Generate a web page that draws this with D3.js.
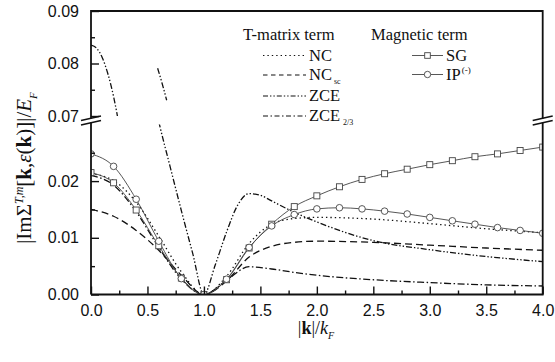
<!DOCTYPE html>
<html>
<head>
<meta charset="utf-8">
<script src="https://cdn.jsdelivr.net/npm/d3@7"></script>
<style>
  body { margin: 0; background: #fff; }
  svg { display: block; }
  .tick-label { font-family: "Liberation Sans", Arial, sans-serif; font-size: 16px; fill: #111; }
  .serif { font-family: "Liberation Serif", "Times New Roman", serif; fill: #111; }
</style>
</head>
<body>
<svg id="chart" width="555" height="362"></svg>
<script>
// values
const kMarks = [0, 0.2, 0.4, 0.6, 0.8, 1.0, 1.2, 1.4, 1.6, 1.8, 2.0, 2.2, 2.4, 2.6, 2.8, 3.0, 3.2, 3.4, 3.6, 3.8, 4.0]
const sgVals = [0.0215, 0.0197, 0.0149, 0.0086, 0.0029, 0, 0.0026, 0.0082, 0.0124, 0.0155, 0.0174, 0.0190, 0.0203, 0.0213, 0.0221, 0.0229, 0.0236, 0.0243, 0.0248, 0.0254, 0.0260]
const ipVals = [0.0248, 0.0226, 0.0168, 0.0094, 0.0028, 0, 0.0027, 0.0083, 0.0121, 0.0141, 0.0151, 0.0153, 0.0151, 0.0147, 0.0142, 0.0136, 0.0130, 0.0124, 0.0118, 0.0113, 0.0108]

const kLines = [0, 0.2, 0.4, 0.6, 0.8, 1.0, 1.2, 1.4, 1.6, 1.8, 2.0, 2.5, 3.0, 3.5, 4.0]
const ncVals = [0.0213, 0.0201, 0.0163, 0.0103, 0.0040, 0, 0.0032, 0.0090, 0.0124, 0.0134, 0.0136, 0.0133, 0.0125, 0.0116, 0.0109]
const ncScVals = [0.0150, 0.0138, 0.0113, 0.0078, 0.0034, 0, 0.0024, 0.0066, 0.0085, 0.0092, 0.0094, 0.0092, 0.0087, 0.0082, 0.0078]
const zce23Vals = [0.0210, 0.0193, 0.0146, 0.0083, 0.0027, 0, 0.0025, 0.0049, 0.0045, 0.0039, 0.0034, 0.0026, 0.0021, 0.0017, 0.0015]

const zceK = [0, 0.05, 0.1, 0.15, 0.2, 0.25, 0.6, 0.7, 0.8, 0.9, 1.0, 1.1, 1.2, 1.3, 1.4, 1.5, 1.6, 1.8, 2.0, 2.5, 3.0, 3.5, 4.0]
const zceVals = [0.0835, 0.0829, 0.0811, 0.0780, 0.0737, 0.0682, 0.0305, 0.0226, 0.0148, 0.0073, 0, 0.0052, 0.0110, 0.0158, 0.0178, 0.0175, 0.0165, 0.0145, 0.0128, 0.0095, 0.0079, 0.0067, 0.0058]
// short piece seen in the upper panel near k = 0.6
const zceTopK = [0.59, 0.63, 0.67]
const zceTopVals = [0.0791, 0.0762, 0.0730]

const xTicks = [0, 0.5, 1.0, 1.5, 2.0, 2.5, 3.0, 3.5, 4.0]
const yLowTicks = [0, 0.01, 0.02]
const yHighTicks = [0.07, 0.08, 0.09]

const svg = d3.select("#chart")

const x = d3.scaleLinear().domain([0, 4]).range([91, 542.7])
const yLo = d3.scaleLinear().domain([0, 0.03]).range([294.5, 124.4])
const yHi = d3.scaleLinear().domain([0.07, 0.09]).range([116, 11])

const defs = svg.append("defs")
defs.append("clipPath").attr("id", "clipLo").append("rect")
  .attr("x", x(0)).attr("y", yLo(0.03)).attr("width", x(4) - x(0)).attr("height", yLo(0) - yLo(0.03))
defs.append("clipPath").attr("id", "clipHi").append("rect")
  .attr("x", x(0)).attr("y", yHi(0.09)).attr("width", x(4) - x(0)).attr("height", yHi(0.07) - yHi(0.09))

const series = [
  { k: kLines, v: ncVals, dash: "1.4,3" },
  { k: kLines, v: ncScVals, dash: "7,4" },
  { k: zceK, v: zceVals, dash: "6,2,1.4,2,1.4,2" },
  { k: zceTopK, v: zceTopVals, dash: "6,2,1.4,2,1.4,2" },
  { k: kLines, v: zce23Vals, dash: "7,2.5,1.5,2.5" },
  { k: kMarks, v: sgVals, dash: null, thin: true },
  { k: kMarks, v: ipVals, dash: null, thin: true }
]

const panels = [
  { y: yLo, clip: "url(#clipLo)" },
  { y: yHi, clip: "url(#clipHi)" }
]

panels.forEach(p => {
  const g = svg.append("g").attr("clip-path", p.clip)
  const line = d3.line().x(d => x(d[0])).y(d => p.y(d[1])).curve(d3.curveMonotoneX)
  series.forEach(s => {
    g.append("path")
      .datum(s.k.map((k, i) => [k, s.v[i]]))
      .attr("d", line)
      .attr("fill", "none")
      .attr("stroke", s.thin ? "#444" : "#111")
      .attr("stroke-width", s.thin ? 0.9 : 1.3)
      .attr("stroke-dasharray", s.dash)
  })
  g.selectAll("rect.sg").data(kMarks.map((k, i) => [k, sgVals[i]])).enter()
    .append("rect").attr("class", "sg")
    .attr("x", d => x(d[0]) - 3).attr("y", d => p.y(d[1]) - 3)
    .attr("width", 6).attr("height", 6)
    .attr("fill", "#fff").attr("stroke", "#444").attr("stroke-width", 0.9)
  g.selectAll("circle.ip").data(kMarks.map((k, i) => [k, ipVals[i]])).enter()
    .append("circle").attr("class", "ip")
    .attr("cx", d => x(d[0])).attr("cy", d => p.y(d[1])).attr("r", 3.3)
    .attr("fill", "#fff").attr("stroke", "#444").attr("stroke-width", 0.9)
})

// axes, ticks point inward
const axisG = svg.append("g")

const xAxis = axisG.append("g").attr("transform", `translate(0,${yLo(0)})`)
  .call(d3.axisBottom(x).tickValues(xTicks).tickSizeInner(-8).tickSizeOuter(0).tickPadding(10).tickFormat(d3.format(".1f")))
axisG.append("g").attr("transform", `translate(0,${yLo(0)})`)
  .call(d3.axisBottom(x).tickValues([0.25, 0.75, 1.25, 1.75, 2.25, 2.75, 3.25, 3.75]).tickSizeInner(-4).tickSizeOuter(0).tickFormat(""))

axisG.append("g").attr("transform", `translate(${x(0)},0)`)
  .call(d3.axisLeft(yLo).tickValues(yLowTicks).tickSizeInner(-8).tickSizeOuter(0).tickPadding(12).tickFormat(d3.format(".2f")))
axisG.append("g").attr("transform", `translate(${x(0)},0)`)
  .call(d3.axisLeft(yLo).tickValues([0.005, 0.015, 0.025]).tickSizeInner(-4).tickSizeOuter(0).tickFormat(""))
axisG.append("g").attr("transform", `translate(${x(0)},0)`)
  .call(d3.axisLeft(yHi).tickValues(yHighTicks).tickSizeInner(-8).tickSizeOuter(0).tickPadding(12).tickFormat(d3.format(".2f")))
axisG.append("g").attr("transform", `translate(${x(0)},0)`)
  .call(d3.axisLeft(yHi).tickValues([0.075, 0.085]).tickSizeInner(-4).tickSizeOuter(0).tickFormat(""))

axisG.selectAll(".domain").remove()
axisG.selectAll(".tick line").attr("stroke", "#111").attr("stroke-width", 1.4)
axisG.selectAll(".tick text").attr("class", "tick-label").attr("fill", null)
xAxis.selectAll(".tick text").attr("dy", "0.71em")

// frame with breaks
const frameL = x(0), frameR = x(4), frameT = yHi(0.09), frameB = yLo(0)
svg.append("path")
  .attr("d", `M${frameL},${frameB}V${frameT}H${frameR}V${frameB}H${frameL}`)
  .attr("fill", "none").attr("stroke", "#111").attr("stroke-width", 1.8)

const breakY = 120.5
;[frameL, frameR].forEach(cx => {
  svg.append("rect").attr("x", cx - 3).attr("y", breakY - 2).attr("width", 6).attr("height", 4).attr("fill", "#fff")
  ;[-2.3, 2.3].forEach(off => {
    svg.append("line")
      .attr("x1", cx - 10).attr("y1", breakY + off + 2.2)
      .attr("x2", cx + 10).attr("y2", breakY + off - 2.2)
      .attr("stroke", "#111").attr("stroke-width", 1.5)
  })
})

// legend
const legend = svg.append("g").attr("class", "serif").style("font-size", "16.5px")
legend.append("text").attr("x", 243).attr("y", 40).text("T-matrix term")
legend.append("text").attr("x", 371).attr("y", 40).text("Magnetic term")

const leftEntries = [
  { name: "NC", sub: "", dash: "1.4,3", row: 60.5 },
  { name: "NC", sub: "sc", dash: "4.5,3.5", row: 80 },
  { name: "ZCE", sub: "", dash: "5,2,1.4,2,1.4,2", row: 101 },
  { name: "ZCE", sub: "2/3", dash: "5,2.5,1.5,2.5", row: 121 }
]
leftEntries.forEach(e => {
  const yy = e.row
  legend.append("line").attr("x1", 263).attr("x2", 306).attr("y1", yy - 5).attr("y2", yy - 5)
    .attr("stroke", "#111").attr("stroke-width", 1.1).attr("stroke-dasharray", e.dash)
  legend.append("text").attr("x", 309).attr("y", yy).text(e.name)
  if (e.sub) {
    legend.append("text").attr("x", 309 + (e.name === "NC" ? 25 : 34)).attr("y", yy + 3.5)
      .style("font-size", "8px").text(e.sub)
  }
})

const rightEntries = [{ name: "SG", sym: "square" }, { name: "IP", sym: "circle", sup: "(-)" }]
rightEntries.forEach((e, i) => {
  const yy = 60.5 + i * 19
  legend.append("line").attr("x1", 412).attr("x2", 443).attr("y1", yy - 5).attr("y2", yy - 5)
    .attr("stroke", "#444").attr("stroke-width", 0.9)
  if (e.sym === "square") {
    legend.append("rect").attr("x", 427.5 - 2.8).attr("y", yy - 5 - 2.8).attr("width", 5.6).attr("height", 5.6)
      .attr("fill", "#fff").attr("stroke", "#444").attr("stroke-width", 0.9)
  } else {
    legend.append("circle").attr("cx", 427.5).attr("cy", yy - 5).attr("r", 3.2)
      .attr("fill", "#fff").attr("stroke", "#444").attr("stroke-width", 0.9)
  }
  const t = legend.append("text").attr("x", 446).attr("y", yy)
  t.append("tspan").text(e.name)
  if (e.sup) t.append("tspan").attr("dy", -7).attr("dx", 1).style("font-size", "9px").text(e.sup)
})

// axis titles
const xt = svg.append("text").attr("class", "serif").attr("x", 316).attr("y", 334)
  .attr("text-anchor", "middle").style("font-size", "18px")
xt.append("tspan").text("|")
xt.append("tspan").style("font-weight", "bold").text("k")
xt.append("tspan").text("|/")
xt.append("tspan").style("font-style", "italic").text("k")
xt.append("tspan").attr("dy", 5).style("font-style", "italic").style("font-size", "10px").text("F")

const yt = svg.append("text").attr("class", "serif")
  .attr("transform", "translate(31,168) rotate(-90)")
  .attr("text-anchor", "middle").style("font-size", "21px")
yt.append("tspan").text("|ImΣ")
yt.append("tspan").attr("dy", -8).style("font-style", "italic").style("font-size", "12px").text("T,m")
yt.append("tspan").attr("dy", 8).text("[")
yt.append("tspan").style("font-weight", "bold").text("k")
yt.append("tspan").text(",")
yt.append("tspan").style("font-style", "italic").text("ε")
yt.append("tspan").text("(")
yt.append("tspan").style("font-weight", "bold").text("k")
yt.append("tspan").text(")]|/")
yt.append("tspan").style("font-style", "italic").text("E")
yt.append("tspan").attr("dy", 6).style("font-style", "italic").style("font-size", "11px").text("F")
</script>
</body>
</html>
